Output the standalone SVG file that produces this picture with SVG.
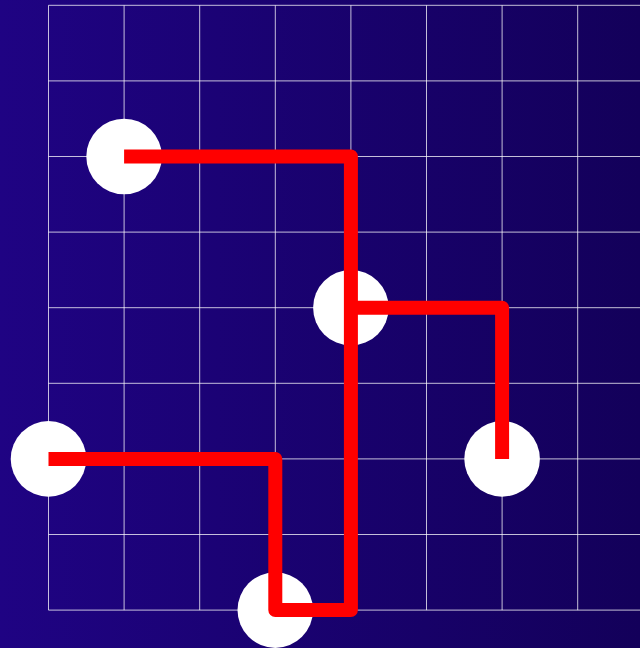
<svg xmlns="http://www.w3.org/2000/svg" width="640" height="648" viewBox="0 0 640 648">
<defs>
<linearGradient id="bg" x1="0" y1="0" x2="1" y2="0">
<stop offset="0" stop-color="#1f0383"/>
<stop offset="1" stop-color="#13005a"/>
</linearGradient>
<style>
.grid line{stroke:#ffffff;stroke-opacity:0.75;stroke-width:1}
.node circle{fill:#ffffff}
.wire{fill:none;stroke:#ff0000;stroke-width:14;stroke-linejoin:round;stroke-linecap:butt}
</style>
</defs>
<rect x="0" y="0" width="640" height="648" fill="url(#bg)"/>
<g class="grid">
<line x1="48.5" y1="5.3" x2="660" y2="5.3"/>
<line x1="48.5" y1="80.9" x2="660" y2="80.9"/>
<line x1="48.5" y1="156.5" x2="660" y2="156.5"/>
<line x1="48.5" y1="232.1" x2="660" y2="232.1"/>
<line x1="48.5" y1="307.7" x2="660" y2="307.7"/>
<line x1="48.5" y1="383.3" x2="660" y2="383.3"/>
<line x1="48.5" y1="458.9" x2="660" y2="458.9"/>
<line x1="48.5" y1="534.5" x2="660" y2="534.5"/>
<line x1="48.5" y1="610.1" x2="660" y2="610.1"/>
<line x1="48.5" y1="5.3" x2="48.5" y2="610.1"/>
<line x1="124.1" y1="5.3" x2="124.1" y2="610.1"/>
<line x1="199.7" y1="5.3" x2="199.7" y2="610.1"/>
<line x1="275.3" y1="5.3" x2="275.3" y2="610.1"/>
<line x1="350.9" y1="5.3" x2="350.9" y2="610.1"/>
<line x1="426.5" y1="5.3" x2="426.5" y2="610.1"/>
<line x1="502.1" y1="5.3" x2="502.1" y2="610.1"/>
<line x1="577.7" y1="5.3" x2="577.7" y2="610.1"/>
</g>
<g id="n1" class="node"><circle cx="124.1" cy="156.5" r="37.8"/></g>
<g id="n2" class="node"><circle cx="350.9" cy="307.7" r="37.8"/></g>
<g id="n3" class="node"><circle cx="48.5" cy="458.9" r="37.8"/></g>
<g id="n4" class="node"><circle cx="502.1" cy="458.9" r="37.8"/></g>
<g id="n5" class="node"><circle cx="275.3" cy="610.1" r="37.8"/></g>
<g id="connectors">
<path class="wire" d="M124.1,156.5 H350.9 V610.1 H275.3 V458.9 H48.5"/>
<path class="wire" d="M350.9,307.7 H502.1 V458.9"/>
</g>
</svg>
